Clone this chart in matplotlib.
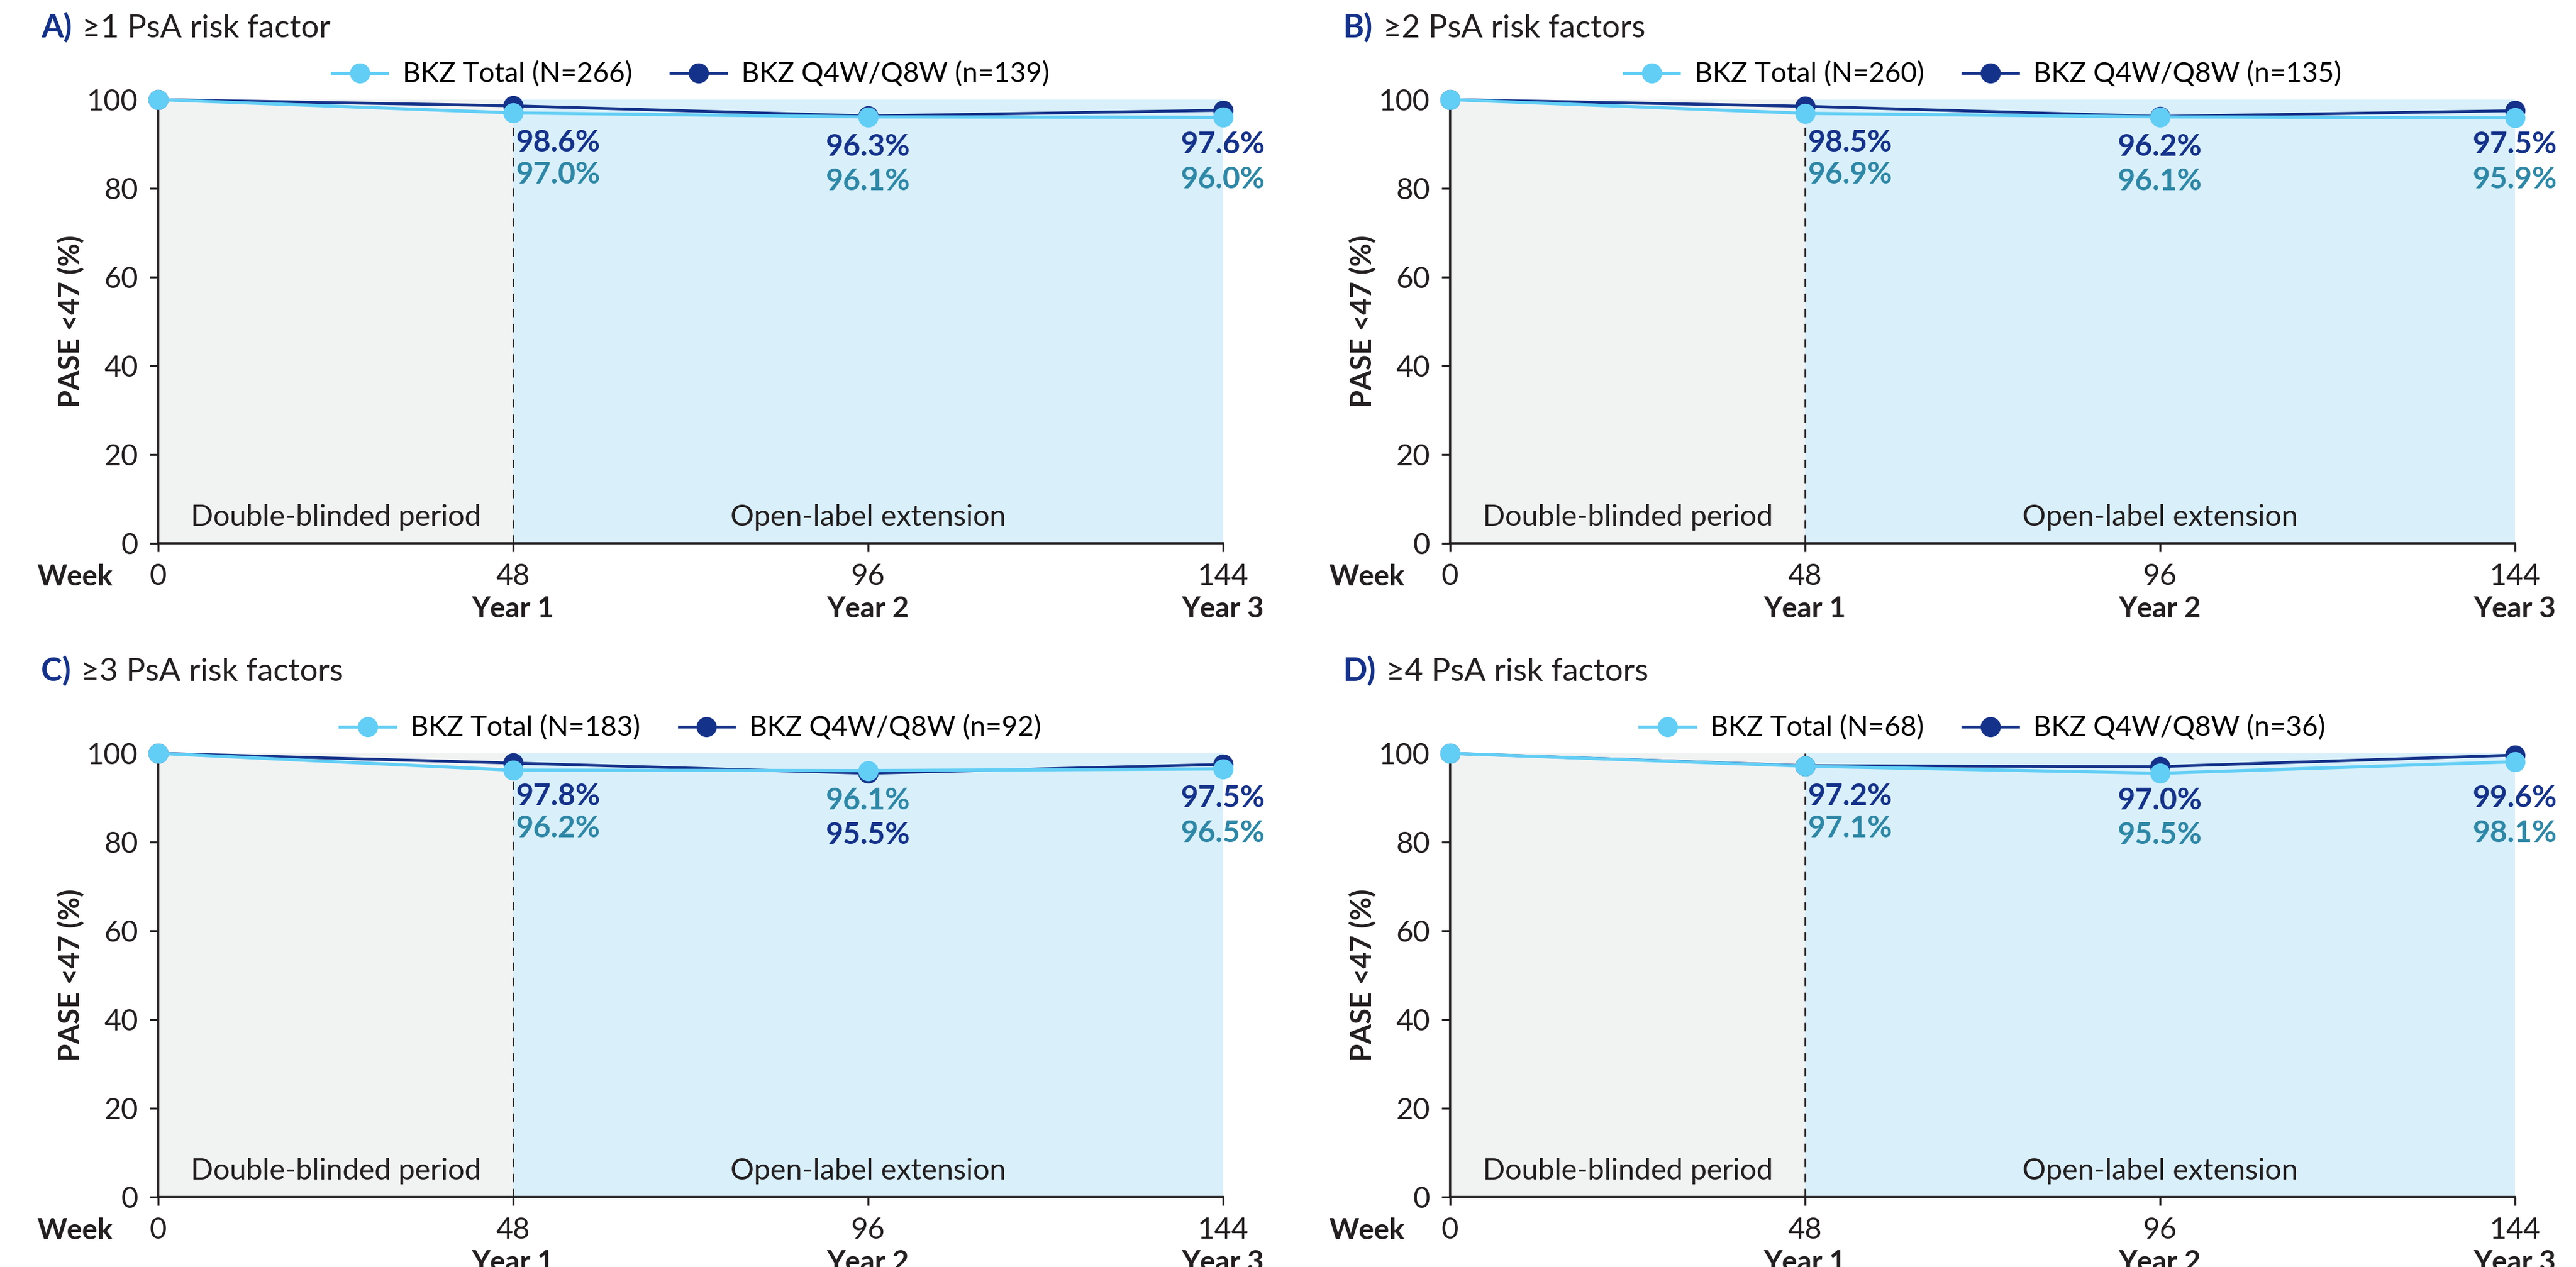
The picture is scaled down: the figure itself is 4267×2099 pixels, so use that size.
import matplotlib
matplotlib.use("Agg")
import matplotlib.pyplot as plt

plt.rcParams['font.family'] = ['Lato', 'DejaVu Sans']

# data
weeks = [0, 48, 96, 144]
year_labels = ["Year 1", "Year 2", "Year 3"]
panel_letters = ["A)", "B)", "C)", "D)"]
panel_titles = ["\u22651 PsA risk factor", "\u22652 PsA risk factors",
                "\u22653 PsA risk factors", "\u22654 PsA risk factors"]
n_total = [266, 260, 183, 68]
n_q4w = [139, 135, 92, 36]
total_A = [100, 97.0, 96.1, 96.0]
q4w_A = [100, 98.6, 96.3, 97.6]
total_B = [100, 96.9, 96.1, 95.9]
q4w_B = [100, 98.5, 96.2, 97.5]
total_C = [100, 96.2, 96.1, 96.5]
q4w_C = [100, 97.8, 95.5, 97.5]
total_D = [100, 97.1, 95.5, 98.1]
q4w_D = [100, 97.2, 97.0, 99.6]
totals = [total_A, total_B, total_C, total_D]
q4ws = [q4w_A, q4w_B, q4w_C, q4w_D]

NAVY = "#15328A"
CYAN = "#62CEF5"
TEAL = "#2E87A6"
DARK = "#231F20"
GREY_BG = "#F1F3F3"
BLUE_BG = "#D9F0FA"

fig = plt.figure(figsize=(4267 / 200, 2099 / 200), dpi=200)

W, H = 4267, 2099
positions = [(262, 900), (2402, 900), (262, 1983), (2402, 1983)]
title_pos = [(68, 62), (2225, 62), (68, 1128), (2225, 1128)]
ax_w, ax_h = 1764, 735

# label heights (data units) for upper / lower value labels per week
lab_hi = {48: 90.3, 96: 89.3, 144: 89.8}
lab_lo = {48: 83.0, 96: 81.6, 144: 82.0}

for i in range(4):
    x0, y0 = positions[i]
    ax = fig.add_axes([x0 / W, 1 - y0 / H, ax_w / W, ax_h / H])
    tot, q = totals[i], q4ws[i]

    ax.axvspan(0, 48, color=GREY_BG, zorder=0, lw=0)
    ax.axvspan(48, 144, color=BLUE_BG, zorder=0, lw=0)
    ax.plot([48, 48], [0, 100], ls=(0, (5, 4)), color=DARK, lw=1.0, zorder=1)

    ax.plot(weeks, q, color=NAVY, lw=1.7, marker='o', ms=11, clip_on=False, zorder=3,
            label=f"BKZ Q4W/Q8W (n={n_q4w[i]})")
    ax.plot(weeks, tot, color=CYAN, lw=1.9, marker='o', ms=11, clip_on=False, zorder=4,
            label=f"BKZ Total (N={n_total[i]})")

    h, l = ax.get_legend_handles_labels()
    ax.legend(h[::-1], l[::-1], loc='center', bbox_to_anchor=(0.5, 1.057), ncol=2,
              frameon=False, fontsize=16.5, handlelength=2.0, handletextpad=0.55,
              columnspacing=1.4)

    # value labels
    for k in range(1, 4):
        wk = weeks[k]
        if q[k] >= tot[k]:
            top, topc, bot, botc = q[k], NAVY, tot[k], TEAL
        else:
            top, topc, bot, botc = tot[k], TEAL, q[k], NAVY
        ha = 'left' if wk == 48 else 'center'
        xx = wk + 0.4 if wk == 48 else wk
        ax.text(xx, lab_hi[wk], f"{top:.1f}%", color=topc, fontsize=18, fontweight='bold',
                ha=ha, va='center', zorder=5)
        ax.text(xx, lab_lo[wk], f"{bot:.1f}%", color=botc, fontsize=18, fontweight='bold',
                ha=ha, va='center', zorder=5)

    ax.text(24, 4, "Double-blinded period", fontsize=17.5, color=DARK, ha='center', va='baseline')
    ax.text(96, 4, "Open-label extension", fontsize=17.5, color=DARK, ha='center', va='baseline')

    ax.set_xlim(0, 144)
    ax.set_ylim(0, 100)
    ax.set_xticks(weeks)
    ax.set_xticklabels([str(w) for w in weeks])
    ax.set_yticks([0, 20, 40, 60, 80, 100])
    ax.tick_params(axis='both', labelsize=17.5, colors=DARK, length=5, width=1.2, pad=7)
    for s in ['top', 'right']:
        ax.spines[s].set_visible(False)
    for s in ['left', 'bottom']:
        ax.spines[s].set_color(DARK)
        ax.spines[s].set_linewidth(1.3)

    for wk, yl in zip(weeks[1:], year_labels):
        ax.text(wk, -0.167, yl, transform=ax.get_xaxis_transform(), fontsize=17,
                fontweight='bold', color=DARK, ha='center', va='baseline')
    ax.text(-75 / ax_w, -0.095, "Week", transform=ax.transAxes, fontsize=17,
            fontweight='bold', color=DARK, ha='right', va='baseline')
    ax.text(-144 / ax_w, 0.5, "PASE <47 (%)", transform=ax.transAxes, fontsize=17,
            fontweight='bold', color=DARK, rotation=90, ha='center', va='center')

    tx, ty = title_pos[i]
    t1 = fig.text(tx / W, 1 - ty / H, panel_letters[i], fontsize=19, fontweight='bold',
                  color=NAVY, ha='left', va='baseline')
    ax.annotate(panel_titles[i], xy=(1, 0), xycoords=t1, xytext=(6, 0),
                textcoords='offset points', fontsize=19, color=DARK, ha='left', va='bottom',
                annotation_clip=False)

fig.savefig("out.png", dpi=200)
